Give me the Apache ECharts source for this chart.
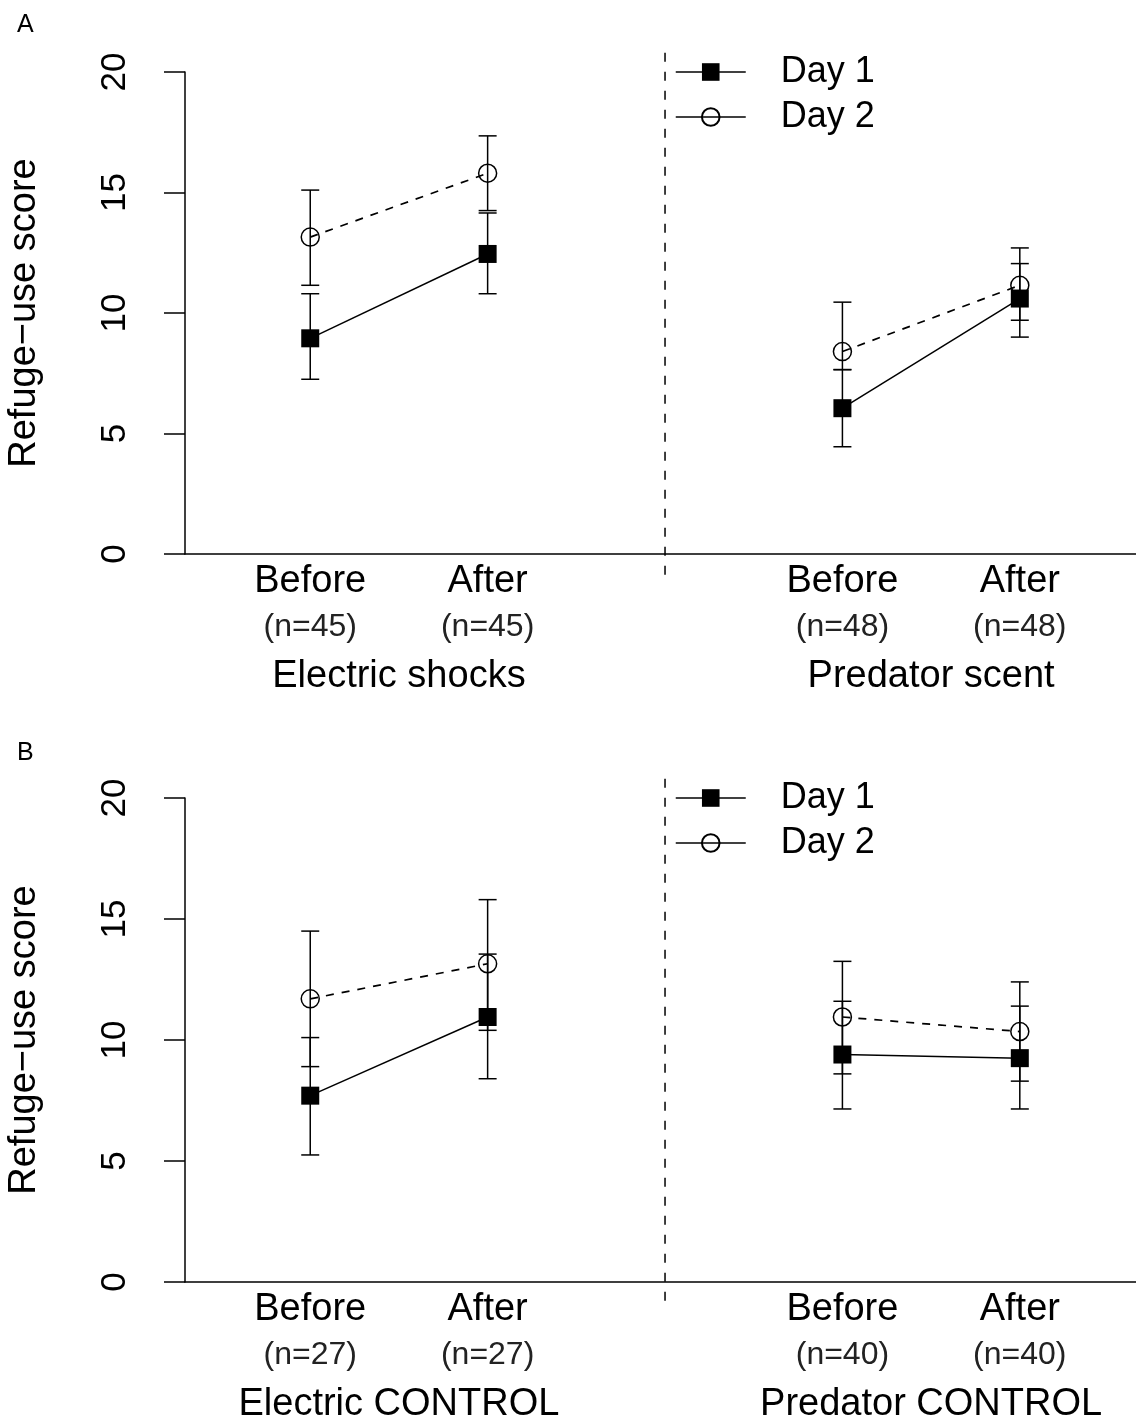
<!DOCTYPE html>
<html>
<head>
<meta charset="utf-8">
<script src="https://cdn.jsdelivr.net/npm/echarts@6/dist/echarts.min.js"></script>
<style>
html,body{margin:0;padding:0;background:#fff;}
#chart{width:1136px;height:1421px;}
</style>
</head>
<body>
<div id="chart"></div>
<script>
// ---- Data ----
const conditions = ['Before', 'After'];
const groupsA = ['Electric shocks', 'Predator scent'];
const groupsB = ['Electric CONTROL', 'Predator CONTROL'];
const nA = [45, 45, 48, 48];
const nB = [27, 27, 40, 40];
// order: group1-Before, group1-After, group2-Before, group2-After
const day1MeanA = [8.95, 12.45, 6.05, 10.6];
const day1LowA  = [7.25, 10.8, 4.45, 9.0];
const day1HighA = [10.8, 14.15, 7.65, 12.05];
const day2MeanA = [13.15, 15.8, 8.4, 11.15];
const day2LowA  = [11.15, 14.25, 7.65, 9.7];
const day2HighA = [15.1, 17.35, 10.45, 12.7];
const day1MeanB = [7.7, 10.95, 9.4, 9.25];
const day1LowB  = [5.25, 8.4, 7.15, 7.15];
const day1HighB = [10.1, 13.55, 11.6, 11.4];
const day2MeanB = [11.7, 13.15, 10.95, 10.35];
const day2LowB  = [8.9, 10.4, 8.6, 8.3];
const day2HighB = [14.5, 15.8, 13.25, 12.4];
const yTicks = [0, 5, 10, 15, 20];
const seriesNames = ['Day 1', 'Day 2'];

// ---- helpers ----
const FONT = 'Liberation Sans, Arial, Helvetica, sans-serif';
const xPos = (g, c) => 1 + 3 * g + c;          // 1,2 | 4,5
const idxOf = (v) => { const g = v < 3 ? 0 : 1; return { g, c: Math.round(v - 1 - 3 * g) }; };
const pointValues = [];
for (let g = 0; g < 2; g++) for (let c = 0; c < conditions.length; c++) pointValues.push(xPos(g, c));
const groupCenters = [0, 1].map(g => (xPos(g, 0) + xPos(g, 1)) / 2);
const dividerX = (xPos(0, 1) + xPos(1, 0)) / 2;
const X_MIN = 0.294, X_MAX = 5.655;

function panel(p, top, height, groups, ns, m1, l1, h1, m2, l2, h2) {
  const grid = { left: 185, right: 0, top: top, height: height, containLabel: false, outerBoundsMode: 'none' };
  const xMain = {
    type: 'value', gridIndex: p, min: X_MIN, max: X_MAX, position: 'bottom',
    splitLine: { show: false },
    axisLine: { show: true, onZero: false, lineStyle: { color: '#000', width: 1.5 } },
    axisTick: { show: false },
    axisLabel: {
      customValues: pointValues, margin: 6, interval: 0, color: '#000', fontFamily: FONT,
      formatter: (v) => { const k = idxOf(v); return '{a|' + conditions[k.c] + '}\n{b|(n=' + ns[k.g * 2 + k.c] + ')}'; },
      rich: {
        a: { fontSize: 38, lineHeight: 44, fontFamily: FONT, color: '#000' },
        b: { fontSize: 32, lineHeight: 46, fontFamily: FONT, color: '#222' }
      }
    }
  };
  const xGroup = {
    type: 'value', gridIndex: p, min: X_MIN, max: X_MAX, position: 'bottom',
    splitLine: { show: false }, axisLine: { show: false }, axisTick: { show: false },
    axisLabel: {
      customValues: groupCenters, margin: 101, color: '#000', fontSize: 38, lineHeight: 44, fontFamily: FONT,
      formatter: (v) => groups[v < 3 ? 0 : 1]
    }
  };
  const yAx = {
    type: 'value', gridIndex: p, min: yTicks[0], max: yTicks[yTicks.length - 1], interval: yTicks[1] - yTicks[0],
    name: 'Refuge\u2212use score', nameLocation: 'middle', nameGap: 141,
    nameTextStyle: { fontSize: 38, fontFamily: FONT, color: '#000' },
    splitLine: { show: false },
    axisLine: { show: true, lineStyle: { color: '#000', width: 1.5 } },
    axisTick: { show: true, length: 21, lineStyle: { color: '#000', width: 1.5 } },
    axisLabel: { rotate: 90, margin: 52, fontSize: 35, fontFamily: FONT, color: '#000' }
  };
  const xi = p * 2, yi = p;
  const series = [];
  // divider
  series.push({
    type: 'custom', xAxisIndex: xi, yAxisIndex: yi, clip: false, silent: true,
    data: [[dividerX]],
    renderItem: (params, api) => {
      const a = api.coord([api.value(0), 20.8]);
      const b = api.coord([api.value(0), -0.9]);
      return { type: 'line', shape: { x1: a[0], y1: a[1], x2: b[0], y2: b[1] },
        style: { stroke: '#000', lineWidth: 1.5, lineDash: [9, 10] } };
    }
  });
  // error bars
  const ebData = [];
  [[l1, h1], [l2, h2]].forEach(([lo, hi]) => {
    for (let i = 0; i < 4; i++) ebData.push([pointValues[i], lo[i], hi[i]]);
  });
  series.push({
    type: 'custom', xAxisIndex: xi, yAxisIndex: yi, silent: true, clip: false,
    encode: { x: 0, y: [1, 2] },
    data: ebData,
    renderItem: (params, api) => {
      const x = api.value(0);
      const pl = api.coord([x, api.value(1)]);
      const ph = api.coord([x, api.value(2)]);
      const w = 9, st = { stroke: '#000', lineWidth: 1.5 };
      return { type: 'group', children: [
        { type: 'line', shape: { x1: pl[0], y1: pl[1], x2: ph[0], y2: ph[1] }, style: st },
        { type: 'line', shape: { x1: pl[0] - w, y1: pl[1], x2: pl[0] + w, y2: pl[1] }, style: st },
        { type: 'line', shape: { x1: ph[0] - w, y1: ph[1], x2: ph[0] + w, y2: ph[1] }, style: st }
      ] };
    }
  });
  // lines
  for (let g = 0; g < 2; g++) {
    const d1 = [0, 1].map(c => [xPos(g, c), m1[g * 2 + c]]);
    const d2 = [0, 1].map(c => [xPos(g, c), m2[g * 2 + c]]);
    series.push({
      name: seriesNames[0], type: 'line', xAxisIndex: xi, yAxisIndex: yi, data: d1,
      symbol: 'rect', symbolSize: 18, z: 5,
      lineStyle: { color: '#000', width: 1.5, type: 'solid' },
      itemStyle: { color: '#000', borderWidth: 0 }
    });
    series.push({
      name: seriesNames[1], type: 'line', xAxisIndex: xi, yAxisIndex: yi, data: d2,
      symbol: 'circle', symbolSize: 18, z: 5,
      lineStyle: { color: '#000', width: 1.7, type: [8, 8] },
      itemStyle: { color: 'rgba(0,0,0,0)', borderColor: '#000', borderWidth: 1.5 }
    });
  }
  return { grid, xAxes: [xMain, xGroup], yAxis: yAx, series };
}

const pA = panel(0, 72, 482, groupsA, nA, day1MeanA, day1LowA, day1HighA, day2MeanA, day2LowA, day2HighA);
const pB = panel(1, 798, 484, groupsB, nB, day1MeanB, day1LowB, day1HighB, day2MeanB, day2LowB, day2HighB);

function legendAt(top) {
  return {
    orient: 'vertical', left: 675, top: top, padding: 0,
    itemWidth: 70, itemHeight: 22, itemGap: 9,
    data: seriesNames,
    selectedMode: false,
    lineStyle: { color: '#000', width: 1.5, type: 'solid' },
    textStyle: { fontSize: 36, fontFamily: FONT, color: '#000', padding: [0, 0, 0, 30], lineHeight: 22 }
  };
}

const option = {
  animation: false,
  backgroundColor: '#fff',
  title: [
    { text: 'A', left: 12, top: 8, textStyle: { fontSize: 25, fontWeight: 'normal', fontFamily: FONT, color: '#000' } },
    { text: 'B', left: 12, top: 736, textStyle: { fontSize: 25, fontWeight: 'normal', fontFamily: FONT, color: '#000' } }
  ],
  legend: [legendAt(54), legendAt(780)],
  grid: [pA.grid, pB.grid],
  xAxis: [...pA.xAxes, ...pB.xAxes],
  yAxis: [pA.yAxis, pB.yAxis],
  series: [...pA.series, ...pB.series]
};

const chart = echarts.init(document.getElementById('chart'), null, { renderer: 'canvas' });
chart.setOption(option);
</script>
</body>
</html>
